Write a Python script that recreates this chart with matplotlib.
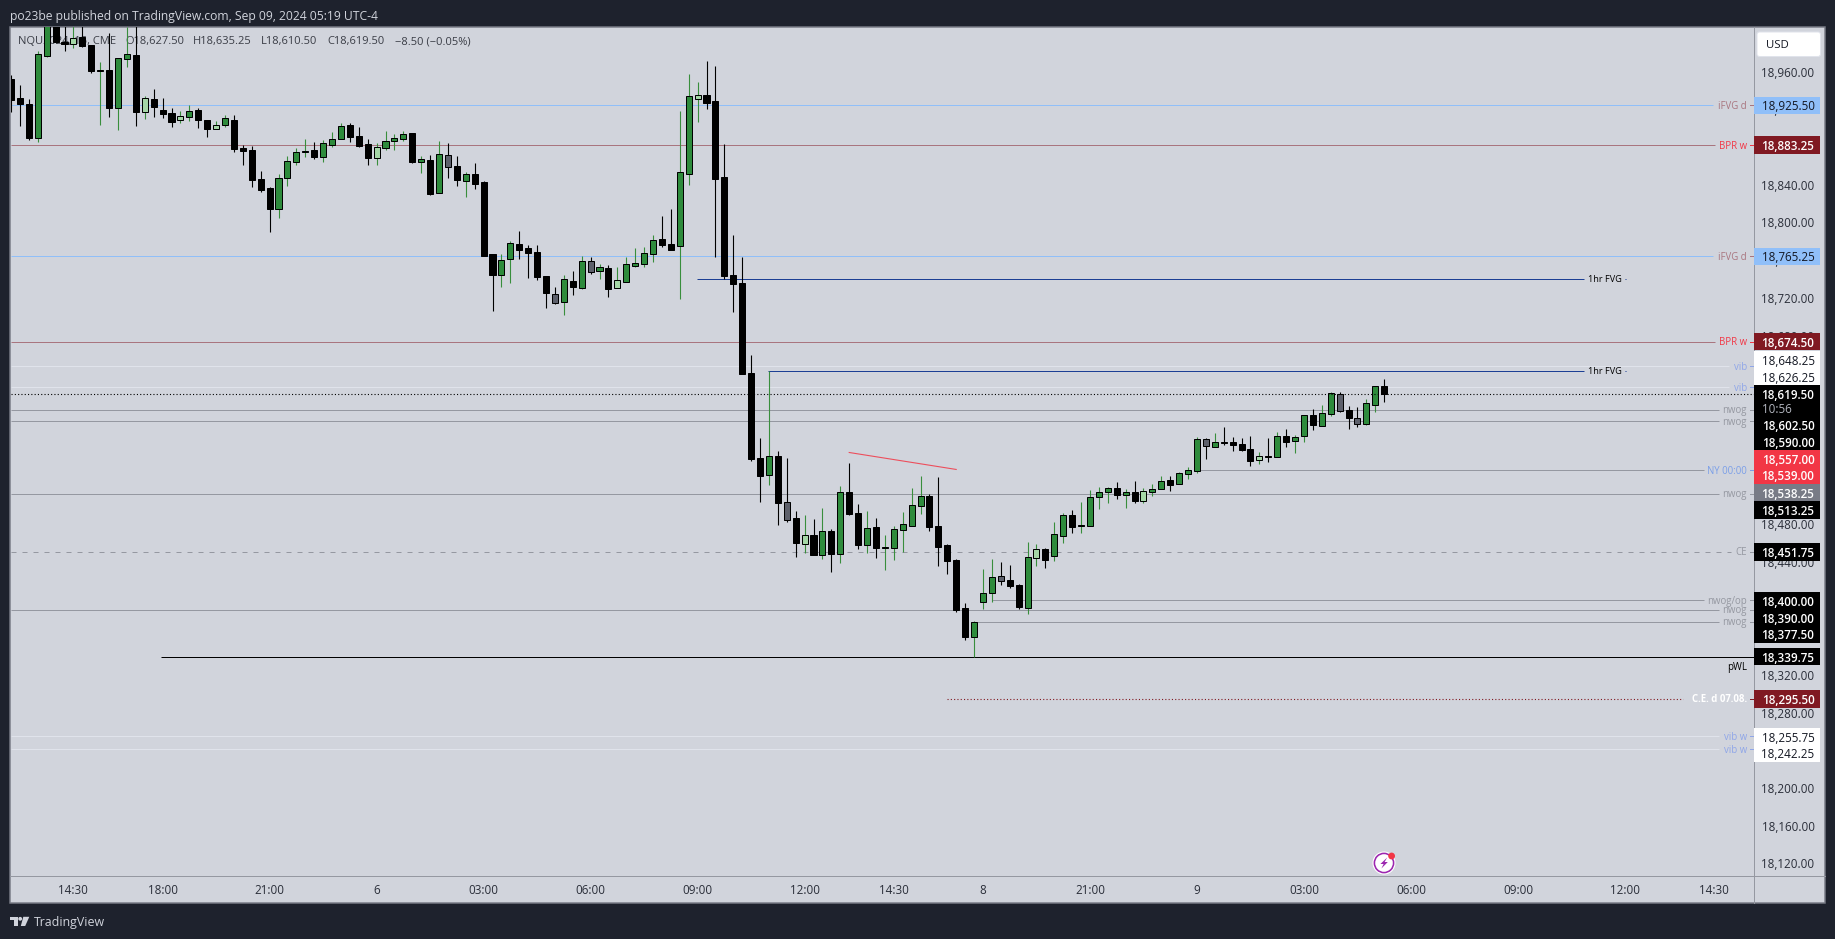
import matplotlib
matplotlib.use("Agg")
import matplotlib.pyplot as plt
from matplotlib.patches import Rectangle, Polygon, Circle, FancyBboxPatch

plt.rcParams['font.family'] = ['Open Sans', 'DejaVu Sans']

# ---------- candle data (15 min bars) ----------
highs = [18957.5,18946.9,18932.0,18983.0,19025,19020,19015,19010,19012,18989.0,
18971.3,19001.7,18975.2,19008.8,19010,18935.2,18942.7,18933.1,18922.9,18919.3,
18925.7,18922.1,18909.4,18908.4,18914.7,18915.1,18883.2,18882.2,18855.7,18838.3,
18852.5,18871.6,18879.7,18889.6,18886.4,18888.5,18897.0,18906.2,18906.6,18902.3,
18889.6,18885.0,18898.1,18894.9,18898.1,18896.0,18871.6,18872.6,18887.5,18885.0,
18871.6,18854.6,18864.1,18845.1,18767.6,18767.6,18781.4,18792.0,18777.2,18777.2,
18744.3,18732.6,18745.3,18749.6,18765.5,18764.5,18757.0,18756.0,18753.8,18764.5,
18774.0,18775.1,18787.8,18808.0,18815.4,18919.4,18958.6,18950.1,18972.4,18967.1,
18884.4,18787.8,18764.5,18660.5,18572.4,18643.5,18558.6,18551.2,18495.0,18490.7,
18486.5,18498.1,18475.9,18521.5,18545.9,18502.4,18495.0,18487.5,18469.5,18479.0,
18493.9,18519.4,18532.1,18513.0,18531.0,18459.9,18444.0,18397.3,18378.2,18433.4,
18444.0,18440.8,18437.6,18417.5,18462.1,18459.9,18455.7,18483.3,18492.8,18496.0,
18504.5,18517.2,18520.4,18520.4,18525.7,18518.2,18526.7,18519.3,18523.5,18532.0,
18532.0,18536.3,18541.6,18573.4,18572.3,18577.7,18584.0,18573.4,18572.3,18574.5,
18557.5,18572.3,18578.7,18581.9,18575.5,18596.8,18603.1,18607.4,18621.2,18621.2,
18606.3,18605.2,18613.7,18627.5,18635.25]

lows = [18918.6,18903.4,18888.5,18886.4,18977.0,18991.8,18983.3,18986.5,18987.6,18960.0,
18904.5,18913.3,18899.2,18966.4,18903.8,18910.8,18913.3,18911.9,18902.3,18906.6,
18909.1,18901.3,18892.1,18900.6,18902.7,18876.2,18862.0,18839.0,18833.4,18791.3,
18805.8,18839.7,18862.0,18870.5,18868.7,18865.2,18881.1,18890.0,18886.4,18881.1,
18862.0,18862.0,18878.3,18878.0,18887.5,18864.1,18853.5,18830.2,18832.7,18848.2,
18839.7,18828.1,18836.6,18765.5,18707.2,18732.6,18736.9,18762.3,18742.2,18740.1,
18710.3,18714.6,18702.9,18724.1,18730.5,18746.4,18741.1,18722.0,18731.6,18737.9,
18753.8,18753.8,18759.1,18775.1,18771.9,18719.9,18840.8,18907.7,18921.5,18764.5,
18740.8,18706.1,18640.3,18548.0,18504.5,18522.5,18480.1,18483.3,18446.1,18450.4,
18448.3,18444.0,18430.2,18439.8,18490.7,18454.6,18450.4,18445.1,18432.4,18443.0,
18451.4,18479.0,18491.8,18473.7,18436.6,18428.1,18387.8,18358.1,18339.7,18391.0,
18398.4,18416.4,18413.2,18391.0,18385.7,18436.6,18434.5,18441.9,18461.0,18471.6,
18471.6,18479.0,18497.0,18503.4,18507.6,18498.1,18503.4,18503.4,18510.8,18518.2,
18516.1,18523.5,18528.8,18535.2,18550.1,18562.8,18564.9,18558.5,18558.5,18542.6,
18544.8,18546.9,18552.2,18562.8,18556.4,18568.1,18580.8,18585.1,18595.7,18599.9,
18581.9,18584.0,18586.1,18600.0,18610.5]

body_tops = [18952.9,18932.8,18926.4,18979.4,19015,19012,18992.9,18996.4,18997.5,18989.0,
18962.8,18962.5,18975.2,18979.4,18978.4,18932.8,18932.0,18920.4,18916.8,18913.7,
18919.0,18920.0,18909.4,18904.1,18911.5,18909.8,18879.7,18877.9,18846.8,18837.6,
18847.9,18865.9,18875.5,18876.9,18877.9,18885.0,18889.2,18903.0,18904.5,18892.8,
18884.3,18880.8,18887.1,18890.7,18894.6,18896.0,18868.0,18867.3,18873.3,18872.3,
18861.0,18852.1,18852.5,18844.0,18767.6,18761.3,18779.3,18778.2,18774.0,18769.8,
18744.3,18725.2,18741.1,18739.0,18760.2,18760.2,18753.8,18752.8,18740.0,18757.0,
18758.1,18768.7,18782.5,18783.5,18778.2,18854.6,18935.3,18936.3,18936.3,18930.0,
18849.3,18745.3,18736.9,18641.4,18551.2,18553.3,18553.3,18504.5,18487.5,18469.5,
18469.5,18473.7,18473.7,18515.1,18515.1,18492.8,18476.9,18478.0,18456.8,18475.9,
18481.2,18501.3,18510.9,18510.9,18479.0,18458.9,18443.0,18392.0,18377.2,18407.9,
18424.9,18426.0,18421.7,18416.4,18446.1,18454.6,18454.6,18470.5,18490.7,18490.7,
18480.1,18509.8,18514.7,18518.9,18519.3,18514.7,18515.0,18515.8,18517.9,18526.4,
18527.8,18535.2,18538.0,18570.9,18571.3,18567.7,18568.1,18568.1,18566.0,18560.7,
18552.9,18553.2,18574.5,18574.5,18573.4,18596.8,18596.8,18598.9,18620.1,18619.0,
18602.1,18593.6,18609.5,18627.5,18627.5]

body_bottoms = [18931.3,18927.1,18891.0,18891.0,18978.0,18992.9,18990.4,18990.8,18988.6,18962.1,
18962.1,18922.9,18922.9,18974.8,18918.6,18918.6,18923.9,18916.1,18908.0,18909.4,
18913.3,18910.1,18900.6,18900.6,18904.8,18879.3,18876.9,18846.1,18835.5,18815.3,
18815.7,18848.6,18865.6,18875.8,18870.5,18870.9,18883.6,18890.0,18891.7,18882.5,
18869.4,18869.8,18880.4,18887.8,18890.0,18865.2,18865.6,18831.2,18832.7,18860.3,
18846.1,18845.4,18841.9,18765.5,18745.3,18745.3,18762.3,18771.9,18768.7,18743.2,
18726.2,18715.6,18716.7,18732.6,18731.6,18748.5,18749.6,18730.5,18731.6,18737.9,
18754.9,18757.0,18767.6,18777.2,18771.9,18776.1,18852.5,18932.1,18927.9,18847.2,
18744.3,18735.8,18640.3,18550.1,18532.1,18533.2,18503.4,18485.4,18461.0,18459.9,
18448.3,18448.3,18449.3,18449.3,18491.8,18458.9,18458.9,18455.7,18456.0,18455.7,
18474.8,18479.0,18500.3,18478.0,18456.8,18441.9,18389.9,18361.3,18361.3,18398.4,
18407.9,18420.7,18415.4,18393.1,18392.0,18445.1,18443.0,18447.2,18468.4,18478.0,
18479.4,18479.0,18509.7,18515.0,18511.9,18511.9,18505.5,18505.5,18515.0,18518.2,
18522.5,18523.5,18534.1,18537.3,18563.9,18562.8,18567.4,18564.9,18559.6,18548.0,
18549.0,18552.5,18552.2,18568.1,18569.2,18574.5,18586.1,18585.1,18597.8,18601.0,
18593.6,18587.2,18587.2,18607.4,18619.5]

candle_kinds = ("kkkggkklkk" "gkggklkkkl" "gkklgkkkkk" "ggggkgggkk" "klgggkgkgd"
                "kgkkkggkkk" "kdgkgdgklg" "gggkkgglkk" "kkkkkgkdkl" "kgkgkkgkgg"
                "gggkkkkkgg" "gdkkglkggk" "ggggkgklgg" "kgggdgkkkk" "lkgkggkggd"
                "kdggk")

# ---------- axes labels ----------
time_bars = [7,17,29,41,53,65,77,89,99,109,121,133,145,157,169,181,191]
time_labels = ["14:30","18:00","21:00","6","03:00","06:00","09:00","12:00","14:30",
               "8","21:00","9","03:00","06:00","09:00","12:00","14:30"]
price_ticks = [18960,18920,18840,18800,18760,18720,18680,
               18480,18440,18320,18280,18200,18160,18120]

# ---------- horizontal levels ----------
level_prices = [18925.5,18883.25,18765.25,18740.8,18674.5,18643.1,18648.25,18626.25,18619.5,
                18602.5,18590.0,18538.25,18513.25,18451.75,18400.0,18390.0,18377.5,18339.75,
                18295.5,18255.75,18242.25]
level_labels = ["iFVG d","BPR w","iFVG d","1hr FVG","BPR w","1hr FVG","vib","vib","",
                "nwog","nwog","NY 00:00","nwog","CE","nwog/op","nwog","nwog","pWL",
                "C.E. d 07.08.","vib w","vib w"]
trend_bars = [94,106]
trend_prices = [18557.0,18539.0]

tag_prices = [18925.5,18883.25,18765.25,18674.5,18648.25,18626.25,18619.5,18602.5,18590.0,
              18557.0,18539.0,18538.25,18513.25,18451.75,18400.0,18390.0,18377.5,18339.75,
              18295.5,18255.75,18242.25]

legend_parts = ["NQU2024, 15, CME", "O18,627.50", "H18,635.25", "L18,610.50", "C18,619.50",
                "\u22128.50 (\u22120.05%)"]

# ---------- styles ----------
BG, PANE = '#1e222d', '#d1d4dc'
BLUE, ROSE, RED, DRED = '#90bff9', '#a9757f', '#f23645', '#801922'
GRAY, LIGHT, VIB, NAVY = '#9598a1', '#e0e3eb', '#8fa6e8', '#1c3f94'
KIND_FILL = {'g': '#2e8b3c', 'k': '#000000', 'l': '#a5d6a7', 'd': '#5d606b'}
WICK = {'g': '#388e3c', 'k': '#000000', 'l': '#388e3c', 'd': '#000000'}

W, H = 1835, 939
PX = 0.72  # points per pixel at dpi 100
LEFT, RIGHT, TOP, BOTTOM = 10.5, 1753.5, 27.0, 876.0
BAR0, BARW = 11.0, 8.917
Y18960, PPX = 72.7, 0.9424


def bar_of(px):
    return (px - BAR0) / BARW


def price_of(y):
    return 18960 - (y - Y18960) / PPX


def y_of(p):
    return Y18960 + (18960 - p) * PPX


fig = plt.figure(figsize=(W / 100, H / 100), dpi=100, facecolor=BG)
ui_bg = fig.add_axes([0, 0, 1, 1], zorder=0)
ui_bg.set_xlim(0, W); ui_bg.set_ylim(H, 0); ui_bg.axis('off')
ui_bg.add_patch(Rectangle((10.2, 26.5), 1825 - 10.2, 903 - 26.5, fc=PANE, ec='#787b86', lw=1.5 * PX))

ax = fig.add_axes([LEFT / W, 1 - BOTTOM / H, (RIGHT - LEFT) / W, (BOTTOM - TOP) / H], zorder=1)
ax.set_facecolor('none')
ax.set_xlim(bar_of(LEFT), bar_of(RIGHT))
ax.set_ylim(price_of(BOTTOM), price_of(TOP))
ax.axis('off')

# level lines : (start bar or None, end pixel, colour, linestyle, width)
left_bar = bar_of(LEFT)
DOT = (0, (1, 2))
line_style = [
    (None, 1713, BLUE, '-', 1), (None, 1715, ROSE, '-', 1), (None, 1713, BLUE, '-', 1),
    (76.9, 1584, NAVY, '-', 1), (None, 1715, ROSE, '-', 1), (84.9, 1584, NAVY, '-', 1),
    (None, 1729, LIGHT, '-', 1), (None, 1729, LIGHT, '-', 1), (None, RIGHT, '#000000', DOT, 1.1),
    (None, 1719, GRAY, '-', 1), (None, 1719, GRAY, '-', 1), (133, 1704, GRAY, '-', 1),
    (None, 1719, GRAY, '-', 1), (None, 1731, GRAY, (0, (5, 6)), 1), (110, 1704, GRAY, '-', 1),
    (None, 1719, GRAY, '-', 1), (108, 1719, GRAY, '-', 1), (16.8, RIGHT, '#000000', '-', 1),
    (105, 1683, DRED, DOT, 1.1), (None, 1719, LIGHT, '-', 1), (None, 1719, LIGHT, '-', 1),
]
for p, (start, end, col, ls, lw) in zip(level_prices, line_style):
    x0 = left_bar if start is None else start
    z = 4 if ls != '-' and col == '#000000' else 1
    ax.plot([x0, bar_of(end)], [p, p], color=col, ls=ls, lw=lw * PX, zorder=z, solid_capstyle='butt')

# candles
for i, kind in enumerate(candle_kinds):
    ax.plot([i, i], [lows[i], highs[i]], color=WICK[kind], lw=1.1 * PX, zorder=2, solid_capstyle='butt')
ax.bar(range(len(candle_kinds)), [t - b for t, b in zip(body_tops, body_bottoms)], bottom=body_bottoms,
       width=0.68, color=[KIND_FILL[k] for k in candle_kinds], edgecolor='#000000', linewidth=1.0 * PX, zorder=3)

# trend line
ax.plot(trend_bars, trend_prices, color=RED, lw=1.1 * PX, alpha=0.85, zorder=4)

# overlay for labels, tags
ui = fig.add_axes([0, 0, 1, 1], zorder=2)
ui.set_facecolor('none')
ui.set_xlim(0, W); ui.set_ylim(H, 0); ui.axis('off')

FS = 8.4
TXT = '#131722'
TVA = 'center_baseline'

# right axis lines
ui.plot([RIGHT, RIGHT], [27, 903], color=GRAY, lw=1 * PX)
ui.plot([10.2, 1825], [BOTTOM, BOTTOM], color=GRAY, lw=1 * PX)

# header + legend
ui.text(10, 15, "po23be published on TradingView.com, Sep 09, 2024 05:19 UTC-4", color='#d1d4dc', fontsize=8.78,
        va=TVA, ha='left')
legend_x = [17.7, 125, 193, 261, 327, 395]
for part, lx in zip(legend_parts, legend_x):
    ax.text((lx - LEFT) / (RIGHT - LEFT), 1 - (41.5 - TOP) / (BOTTOM - TOP), part, transform=ax.transAxes,
            color='#3a3d46', fontsize=8.0, va='center', ha='left', zorder=1.5)

# time axis
for b, t in zip(time_bars, time_labels):
    ui.text(BAR0 + BARW * b, 889.5, t, color='#2a2e39', fontsize=FS, ha='center', va=TVA)

# price ticks
for p in price_ticks:
    ui.text(1788, y_of(p) - 1, f"{p:,.2f}", color='#2a2e39', fontsize=FS, ha='center', va=TVA, zorder=2)

# level labels
label_color = [ROSE, RED, ROSE, '#000000', RED, '#000000', VIB, VIB, None, GRAY, GRAY, '#7b9fe8', GRAY, GRAY,
               GRAY, GRAY, GRAY, '#000000', '#ffffff', VIB, VIB]
for p, lab, col in zip(level_prices, level_labels, label_color):
    if not lab:
        continue
    y = y_of(p)
    if lab == "1hr FVG":
        ui.text(1622, y - 0.5, lab, color=col, fontsize=6.6, ha='right', va=TVA)
        ui.plot([1624.5, 1626], [y, y], color=NAVY, lw=0.8 * PX, alpha=0.7)
    elif lab == "pWL":
        ui.text(1747, y + 9, lab, color=col, fontsize=6.9, ha='right', va=TVA)
    else:
        weight = 'bold' if lab.startswith("C.E.") else 'normal'
        ui.text(1747, y - 0.5, lab, color=col, fontsize=6.9, ha='right', va=TVA, fontweight=weight)
        ui.plot([1750, RIGHT], [y, y], color=col if col != '#ffffff' else DRED, lw=1 * PX)

# price tags : fill, text colour and the shift of each tag off its own price
tag_fill = [BLUE, DRED, BLUE, DRED, '#ffffff', '#ffffff', '#000000', '#000000', '#000000', RED, RED, '#787b86',
            '#000000', '#000000', '#000000', '#000000', '#000000', '#000000', DRED, '#ffffff', '#ffffff']
tag_text = [TXT, '#ffffff', TXT, '#ffffff', TXT, TXT, '#ffffff', '#ffffff', '#ffffff', '#ffffff', '#ffffff',
            '#ffffff', '#ffffff', '#ffffff', '#ffffff', '#ffffff', '#ffffff', '#ffffff', '#ffffff', TXT, TXT]
tag_shift = [0, 0, 0, 0, -6.5, -10.5, 0.4, 15.1, 20.3, 6.5, 5.9, 22.5, 16.3, 0.3, 0.3, 7.8, 12.7, -0.5, 0, 0.3, 4.2]
TAG_H = 17.2
for p, fill, col, sh in zip(tag_prices, tag_fill, tag_text, tag_shift):
    y = y_of(p) + sh
    h = TAG_H * 2 - 1 if p == 18619.5 else TAG_H
    top = y - TAG_H / 2
    ui.add_patch(Rectangle((RIGHT + 0.5, top), 1820 - RIGHT - 0.5, h, fc=fill, ec='none', zorder=3))
    ui.text(1788, y, f"{p:,.2f}", color=col, fontsize=FS, ha='center', va=TVA, zorder=4,
            fontweight='semibold' if col == '#ffffff' else 'normal')
    if p == 18619.5:
        ui.text(1777, y + 14, "10:56", color='#b2b5be', fontsize=FS, ha='center', va=TVA, zorder=4)

# currency button
ui.add_patch(FancyBboxPatch((1757, 32), 63.5, 24.5, boxstyle="round,pad=0,rounding_size=2.5", fc='#ffffff', ec='#e0e3eb',
                            lw=1 * PX, zorder=5))
ui.text(1777, 44.5, "USD", color=TXT, fontsize=8.2, ha='center', va=TVA, zorder=6)

# footer logo
ui.add_patch(Polygon([(10, 916.8), (17.5, 916.8), (17.5, 926), (13.6, 926), (13.6, 920.2), (10, 920.2)], fc='#d1d4dc', ec='none'))
ui.add_patch(Circle((20.2, 918.8), 1.9, fc='#d1d4dc', ec='none'))
ui.add_patch(Polygon([(23.3, 916.8), (29.3, 916.8), (25.2, 926), (20.8, 926)], fc='#d1d4dc', ec='none'))
ui.text(33.5, 921.3, "TradingView", color='#d1d4dc', fontsize=8.9, ha='left', va=TVA)

# lightning badge
cx, cy = 1384.0, 863.0
ui.add_patch(Circle((cx, cy), 11.5, fc='#ffffff', ec='none', zorder=5))
ui.add_patch(Circle((cx, cy), 9.6, fc='none', ec='#9c27b0', lw=1.6 * PX, zorder=6))
ui.add_patch(Polygon([(cx + 3.2, cy - 5.5), (cx - 3.6, cy + 1), (cx - 0.4, cy + 1), (cx - 2.6, cy + 5.5), (cx + 3.8, cy - 1),
                      (cx + 0.6, cy - 1)], fc='#9c27b0', ec='none', zorder=7))
ui.add_patch(Circle((cx + 7.6, cy - 7.0), 3.4, fc=RED, ec='none', zorder=8))

fig.savefig('out.png', dpi=100, facecolor=BG)
